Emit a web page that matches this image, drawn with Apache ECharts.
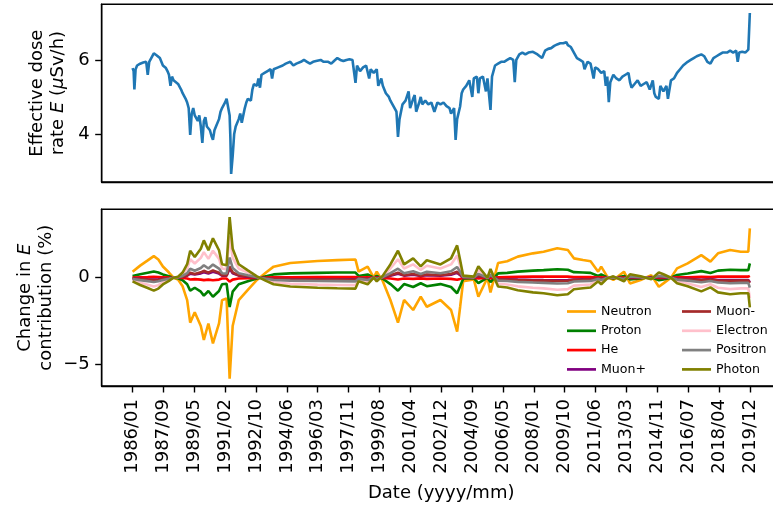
<!DOCTYPE html>
<html><head><meta charset="utf-8">
<script src="https://cdn.jsdelivr.net/npm/echarts@6/dist/echarts.min.js"></script>
<style>html,body{margin:0;padding:0;background:#fff}#c{width:773px;height:509px}</style>
</head><body><div id="c"></div>
<script>
// x positions are months since 1986/01
const tickLabels = ['1986/01','1987/09','1989/05','1991/02','1992/10','1994/06','1996/03','1997/11','1999/08','2001/04','2002/12','2004/09','2006/05','2008/01','2009/10','2011/06','2013/03','2014/11','2016/07','2018/04','2019/12'];
const yTicksDose = [4, 6];
const yTicksContrib = [-5, 0];

// Effective dose rate E (uSv/h): [month, value]
const doseData = [[0,5.78],[0.7,5.7],[1.2,5.2],[2,5.75],[3,5.85],[5,5.9],[7,5.93],[9,5.95],[10,5.6],[11,5.95],[12,6.0],[14,6.18],[15,6.22],[16,6.12],[18,6.05],[19,5.95],[20,5.85],[22,5.78],[23,5.7],[24,5.6],[25,5.3],[26,5.55],[27,5.45],[28,5.5],[30,5.35],[31,5.3],[32,5.2],[33,5.1],[35,4.95],[36,4.85],[37,4.7],[38,3.97],[39,4.55],[40,4.7],[41,4.5],[43,4.35],[44,4.5],[45,4.2],[46,3.76],[47,4.35],[48,4.45],[49,4.2],[51,4.1],[52,3.95],[53,3.84],[54,4.1],[55,4.2],[57,4.4],[58,4.6],[59,4.7],[61,4.85],[62,4.95],[63,4.95],[64,4.5],[64.5,3.9],[65,2.92],[66,3.4],[67,4.0],[68,4.2],[70,4.4],[71,4.55],[72,4.3],[74,4.7],[75,4.85],[76,4.95],[78,4.9],[79,5.2],[80,5.35],[82,5.3],[83,5.5],[84,5.25],[85,5.6],[87,5.65],[89,5.7],[91,5.75],[92,5.5],[93,5.75],[96,5.8],[99,5.85],[101,5.9],[104,5.95],[106,5.85],[108,5.9],[111,5.95],[113,6.0],[115,5.95],[117,5.9],[119,5.95],[121,5.97],[124,6.0],[126,5.95],[129,5.95],[131,5.9],[133,5.98],[135,6.05],[137,6.0],[139,5.97],[141,6.0],[143,6.02],[145,6.0],[146,6.05],[147,5.38],[148,5.85],[150,5.7],[152,5.8],[154,5.85],[156,5.5],[157,5.75],[159,5.65],[161,5.75],[162,5.3],[164,5.5],[165,5.3],[167,5.1],[169,5.0],[170,4.9],[172,4.75],[174,4.6],[175,3.92],[176,4.4],[178,4.8],[180,4.9],[182,5.15],[183,4.7],[185,4.95],[186,5.05],[187,4.6],[189,4.85],[190,5.0],[191,4.8],[193,4.9],[195,4.8],[197,4.85],[199,4.6],[201,4.85],[203,4.8],[205,4.85],[207,4.75],[209,4.7],[210,4.55],[212,4.7],[213,3.84],[214,4.4],[216,4.75],[217,5.1],[218,5.2],[220,5.3],[222,5.45],[224,5.0],[225,5.5],[227,5.55],[228,5.1],[229,5.5],[231,5.55],[233,5.15],[234,5.5],[236,4.65],[237,5.55],[239,5.85],[241,5.9],[243,5.95],[245,5.95],[247,6.0],[249,6.05],[251,6.0],[252,5.4],[253,6.0],[255,6.15],[257,6.2],[259,6.15],[261,6.2],[262,6.25],[264,6.22],[267,6.15],[268,6.2],[270,6.05],[272,6.25],[274,6.3],[276,6.32],[278,6.38],[280,6.42],[282,6.45],[284,6.45],[286,6.48],[287,6.4],[289,6.35],[291,6.2],[293,6.05],[295,6.0],[297,5.95],[298,5.75],[300,5.95],[302,5.9],[304,5.5],[305,5.8],[307,5.75],[309,5.65],[311,5.7],[312,5.3],[313,5.55],[314,4.86],[315,5.4],[317,5.6],[319,5.5],[321,5.45],[323,5.55],[325,5.6],[327,5.65],[328,5.4],[329,5.25],[331,5.35],[333,5.45],[335,5.3],[337,5.35],[339,5.4],[341,5.2],[343,5.45],[344,5.1],[345,5.0],[347,4.95],[348,5.3],[350,5.15],[352,5.3],[353,4.95],[355,5.45],[357,5.5],[359,5.65],[361,5.75],[363,5.85],[364,5.8],[366,5.95],[368,6.0],[370,6.05],[372,6.1],[375,6.15],[377,6.1],[379,5.95],[381,5.9],[383,6.05],[385,6.1],[387,6.15],[389,6.2],[390,6.25],[392,6.2],[394,6.25],[396,6.2],[398,6.25],[399,5.95],[400,6.2],[402,6.22],[404,6.2],[405,6.25],[406,6.28],[407,7.27]];

// Change in E contribution (%)
const contribMonths = [0,5,10,14,17,20,24,27,30,33,36,38,41,45,47,50,53,57,59,62,64,66,70,76,82,88,93,104,122,135,147,149,155,159,161,165,170,175,179,185,190,194,203,210,214,216,218,225,228,234,236,241,247,254,264,271,280,287,291,297,302,307,309,313,317,324,328,335,342,347,350,355,359,366,375,381,386,394,401,406,407];
const neutron = [0.35,0.7,1.0,1.25,1.05,0.65,0.3,0.0,-0.1,-0.5, -1.3,-2.6,-2.0,-2.8,-3.6,-2.65,-3.8,-2.65,-1.3,-1.2, -5.85,-2.8,-1.3,-0.7,-0.13,0.3,0.64,0.85,0.97,1.02, 1.05,0.35,0.64,0.0,0.35,-0.2,-1.29,-2.6,-1.29,-1.87, -1.1,-1.68,-1.29,-1.87,-3.12,-1.68,-0.2,-0.1,-1.1,0.0, -0.85,0.85,0.95,1.22,1.41,1.5,1.7,1.6,1.12,1.02, 0.95,0.35,0.64,0.06,-0.13,0.35,-0.33,-0.13,0.15,-0.52, -0.33,0.0,0.54,0.83,1.31,0.93,1.41,1.6,1.5,1.5, 2.86];
const proton = [0.10,0.20,0.29,0.36,0.30,0.19,0.09,0.00,-0.03,-0.15, -0.38,-0.75,-0.58,-0.81,-1.04,-0.77,-1.10,-0.77,-0.38,-0.35, -1.70,-0.81,-0.38,-0.20,-0.04,0.09,0.19,0.25,0.28,0.30, 0.30,0.10,0.19,0.00,0.10,-0.06,-0.37,-0.75,-0.37,-0.54, -0.32,-0.49,-0.37,-0.54,-0.90,-0.49,-0.06,-0.03,-0.32,0.00, -0.25,0.25,0.28,0.35,0.41,0.44,0.49,0.46,0.32,0.30, 0.28,0.10,0.19,0.02,-0.04,0.10,-0.10,-0.04,0.04,-0.15, -0.10,0.00,0.16,0.24,0.38,0.27,0.41,0.46,0.44,0.44, 0.83];
const he = [0.01,0.03,0.04,0.05,0.04,0.03,0.01,0,0,-0.02, -0.05,-0.10,-0.08,-0.11,-0.14,-0.11,-0.15,-0.11,-0.05,-0.05, -0.23,-0.11,-0.05,-0.03,-0.01,0.01,0.03,0.03,0.04,0.04, 0.04,0.01,0.03,0,0.01,-0.01,-0.05,-0.10,-0.05,-0.07, -0.04,-0.07,-0.05,-0.07,-0.12,-0.07,-0.01,0,-0.04,0, -0.03,0.03,0.04,0.05,0.06,0.06,0.07,0.06,0.04,0.04, 0.04,0.01,0.03,0,-0.01,0.01,-0.01,-0.01,0.01,-0.02, -0.01,0,0.02,0.03,0.05,0.04,0.06,0.06,0.06,0.06, 0.11];
const muonPlus = [-0.03,-0.06,-0.09,-0.11,-0.09,-0.06,-0.03,0,0.01,0.05, 0.12,0.23,0.18,0.25,0.32,0.24,0.34,0.24,0.12,0.11, 0.53,0.25,0.12,0.06,0.01,-0.03,-0.06,-0.08,-0.09,-0.09, -0.09,-0.03,-0.06,0,-0.03,0.02,0.12,0.23,0.12,0.17, 0.10,0.15,0.12,0.17,0.28,0.15,0.02,0.01,0.10,0, 0.08,-0.08,-0.09,-0.11,-0.13,-0.14,-0.15,-0.14,-0.10,-0.09, -0.09,-0.03,-0.06,-0.01,0.01,-0.03,0.03,0.01,-0.01,0.05, 0.03,0,-0.05,-0.07,-0.12,-0.08,-0.13,-0.14,-0.14,-0.14, -0.26];
const muonMinus = [-0.04,-0.08,-0.11,-0.14,-0.12,-0.07,-0.03,0,0.01,0.06, 0.14,0.29,0.22,0.31,0.40,0.29,0.42,0.29,0.14,0.13, 0.64,0.31,0.14,0.08,0.01,-0.03,-0.07,-0.09,-0.11,-0.11, -0.12,-0.04,-0.07,0,-0.04,0.02,0.14,0.29,0.14,0.21, 0.12,0.18,0.14,0.21,0.34,0.18,0.02,0.01,0.12,0, 0.09,-0.09,-0.10,-0.13,-0.16,-0.17,-0.19,-0.18,-0.12,-0.11, -0.10,-0.04,-0.07,-0.01,0.01,-0.04,0.04,0.01,-0.02,0.06, 0.04,0,-0.06,-0.09,-0.14,-0.10,-0.16,-0.18,-0.17,-0.17, -0.31];
const electron = [-0.14,-0.29,-0.41,-0.51,-0.43,-0.27,-0.12,0,0.04,0.21, 0.53,1.07,0.82,1.15,1.48,1.09,1.56,1.09,0.53,0.49, 2.40,1.15,0.53,0.29,0.05,-0.12,-0.26,-0.35,-0.40,-0.42, -0.43,-0.14,-0.26,0,-0.14,0.08,0.53,1.07,0.53,0.77, 0.45,0.69,0.53,0.77,1.28,0.69,0.08,0.04,0.45,0, 0.35,-0.35,-0.39,-0.50,-0.58,-0.62,-0.70,-0.66,-0.46,-0.42, -0.39,-0.14,-0.26,-0.02,0.05,-0.14,0.14,0.05,-0.06,0.21, 0.14,0,-0.22,-0.34,-0.54,-0.38,-0.58,-0.66,-0.62,-0.62, -1.17];
const positron = [-0.07,-0.14,-0.20,-0.25,-0.21,-0.13,-0.06,0,0.02,0.10, 0.26,0.52,0.40,0.56,0.72,0.53,0.76,0.53,0.26,0.24, 1.17,0.56,0.26,0.14,0.03,-0.06,-0.13,-0.17,-0.19,-0.20, -0.21,-0.07,-0.13,0,-0.07,0.04,0.26,0.52,0.26,0.37, 0.22,0.34,0.26,0.37,0.62,0.34,0.04,0.02,0.22,0, 0.17,-0.17,-0.19,-0.24,-0.28,-0.30,-0.34,-0.32,-0.22,-0.20, -0.19,-0.07,-0.13,-0.01,0.03,-0.07,0.07,0.03,-0.03,0.10, 0.07,0,-0.11,-0.17,-0.26,-0.19,-0.28,-0.32,-0.30,-0.30, -0.57];
const photon = [-0.21,-0.42,-0.60,-0.75,-0.63,-0.39,-0.18,0,0.06,0.30, 0.78,1.56,1.20,1.68,2.16,1.59,2.28,1.59,0.78,0.72, 3.51,1.68,0.78,0.42,0.08,-0.18,-0.38,-0.51,-0.58,-0.61, -0.63,-0.21,-0.38,0,-0.21,0.12,0.77,1.56,0.77,1.12, 0.66,1.01,0.77,1.12,1.87,1.01,0.12,0.06,0.66,0, 0.51,-0.51,-0.57,-0.73,-0.85,-0.90,-1.02,-0.96,-0.67,-0.61, -0.57,-0.21,-0.38,-0.04,0.08,-0.21,0.20,0.08,-0.09,0.31, 0.20,0,-0.32,-0.50,-0.79,-0.56,-0.85,-0.96,-0.90,-0.90, -1.72];

const contribSeries = [
  ['Neutron', neutron, 'orange'],
  ['Proton', proton, 'green'],
  ['He', he, 'red'],
  ['Muon+', muonPlus, 'purple'],
  ['Muon-', muonMinus, 'brown'],
  ['Electron', electron, 'pink'],
  ['Positron', positron, 'gray'],
  ['Photon', photon, 'olive']
];

const FONT = 'DejaVu Sans';
const spanMonths = 407;            // 1986/01 -> 2019/12
const tickStep = spanMonths / 20;
const xMin = -tickStep, xMax = spanMonths + tickStep;
const tickValues = tickLabels.map((_, k) => k * tickStep);
const minus = v => String(v).replace('-', '\u2212');

const L = 101.7, W = 679, LW = 2.6;
const axisLineStyle = {show: true, onZero: false, lineStyle: {color: '#000', width: 1.4}};
const tickStyle = {show: true, length: 6.5, inside: false, lineStyle: {color: '#000', width: 1.4}};
const txt = {fontSize: 18, fontFamily: FONT, color: '#000'};

const chart = echarts.init(document.getElementById('c'), null, {renderer: 'canvas'});
const option = {
  animation: false,
  backgroundColor: '#fff',
  grid: [
    {left: L, top: 4.3, width: W, height: 177.7, show: true, borderColor: '#000', borderWidth: 1.4, outerBoundsMode: 'none', containLabel: false},
    {left: L, top: 209.3, width: W, height: 176.7, show: true, borderColor: '#000', borderWidth: 1.4, outerBoundsMode: 'none', containLabel: false}
  ],
  xAxis: [
    {gridIndex: 0, type: 'value', min: xMin, max: xMax, axisLine: axisLineStyle, axisTick: {show: false}, axisLabel: {show: false}, splitLine: {show: false}},
    {gridIndex: 1, type: 'value', min: xMin, max: xMax, axisLine: axisLineStyle,
     axisTick: Object.assign({customValues: tickValues}, tickStyle),
     axisLabel: Object.assign({show: true, rotate: 90, margin: 13, customValues: tickValues,
       formatter: v => tickLabels[Math.round(v / tickStep)]}, txt),
     splitLine: {show: false},
     name: 'Date (yyyy/mm)', nameLocation: 'middle', nameGap: 98, nameMoveOverlap: false, nameTextStyle: txt}
  ],
  yAxis: [
    {gridIndex: 0, type: 'value', min: 2.70, max: 7.505, axisLine: axisLineStyle,
     axisTick: Object.assign({customValues: yTicksDose}, tickStyle),
     axisLabel: Object.assign({margin: 12, customValues: yTicksDose, formatter: minus}, txt),
     splitLine: {show: false},
     name: 'Effective dose\nrate {i|E} ({i|\u03bc}Sv/h)', nameLocation: 'middle', nameRotate: 90, nameGap: 33, nameMoveOverlap: false,
     nameTextStyle: Object.assign({lineHeight: 21, rich: {i: {fontStyle: 'italic', fontSize: 18, fontFamily: FONT, color: '#000', lineHeight: 21}}}, txt)},
    {gridIndex: 1, type: 'value', min: -6.27, max: 3.96, axisLine: axisLineStyle,
     axisTick: Object.assign({customValues: yTicksContrib}, tickStyle),
     axisLabel: Object.assign({margin: 12, customValues: yTicksContrib, formatter: minus}, txt),
     splitLine: {show: false},
     name: 'Change in {i|E}\ncontribution (%)', nameLocation: 'middle', nameRotate: 90, nameGap: 45, nameMoveOverlap: false,
     nameTextStyle: Object.assign({lineHeight: 21, rich: {i: {fontStyle: 'italic', fontSize: 18, fontFamily: FONT, color: '#000', lineHeight: 21}}}, txt)}
  ],
  legend: [
    {data: ['Neutron', 'Proton', 'He', 'Muon+'], orient: 'vertical', left: 562, top: 299, icon: 'rect', itemWidth: 29, itemHeight: 2.7, itemGap: 4.3,
     textStyle: {fontSize: 12.6, fontFamily: FONT, color: '#000', lineHeight: 15}},
    {data: ['Muon-', 'Electron', 'Positron', 'Photon'], orient: 'vertical', left: 677, top: 299, icon: 'rect', itemWidth: 29, itemHeight: 2.7, itemGap: 4.3,
     textStyle: {fontSize: 12.6, fontFamily: FONT, color: '#000', lineHeight: 15}}
  ],
  series: [
    {type: 'line', name: 'E', xAxisIndex: 0, yAxisIndex: 0, data: doseData, symbol: 'none', lineStyle: {color: '#1f77b4', width: LW}, itemStyle: {color: '#1f77b4'}, clip: true}
  ].concat(contribSeries.map(([name, vals, color]) => ({
    type: 'line', name, xAxisIndex: 1, yAxisIndex: 1,
    data: contribMonths.map((m, i) => [m, vals[i]]),
    symbol: 'none', lineStyle: {color, width: LW}, itemStyle: {color}, clip: true
  })))
};
chart.setOption(option);
</script></body></html>
